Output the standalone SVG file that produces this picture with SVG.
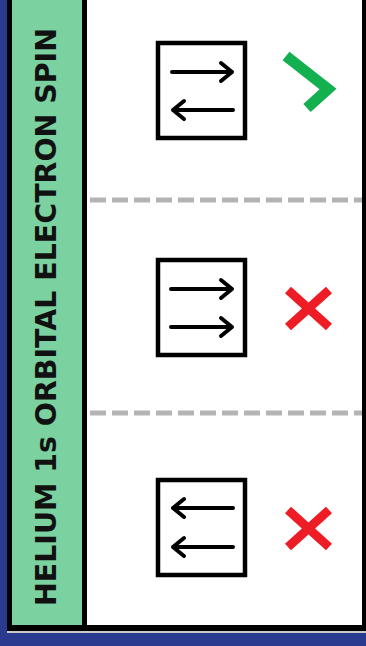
<svg xmlns="http://www.w3.org/2000/svg" width="366" height="646" viewBox="0 0 366 646">
<defs>
<style>
.box{fill:none;stroke:#000;stroke-width:4.5}
.arr{fill:none;stroke:#000;stroke-width:4;stroke-linecap:round;stroke-linejoin:round}
.dash{stroke:#b4b4b4;stroke-width:5;stroke-dasharray:16 6}
.cross{stroke:#ee1c25;stroke-width:9}
</style>
</defs>
<rect x="0" y="0" width="366" height="646" fill="#2a3a8e"/>
<rect x="7" y="0" width="359" height="633" fill="#c8c8c8"/>
<rect x="7" y="0" width="359" height="631" fill="#000"/>
<rect x="12" y="0" width="70" height="625" fill="#7bd19f"/>
<rect x="87" y="0" width="275" height="625" fill="#fff"/>
<text transform="translate(56,317) rotate(-90)" text-anchor="middle" font-family="DejaVu Sans, sans-serif" font-weight="bold" font-size="29" fill="#111" textLength="578" lengthAdjust="spacingAndGlyphs">HELIUM 1s ORBITAL ELECTRON SPIN</text>
<g id="connectors">
<line class="dash" x1="90" y1="200" x2="362" y2="200"/>
<line class="dash" x1="90" y1="413" x2="362" y2="413"/>
</g>
<g id="state1">
<rect class="box" x="158" y="43" width="87" height="95"/>
<path class="arr" d="M172 72H232M221 63L232 72L221 81"/>
<path class="arr" d="M233 110H173M184 101L173 110L184 119"/>
<path d="M286 56L328 89L307 108" fill="none" stroke="#12b04f" stroke-width="11"/>
</g>
<g id="state2">
<rect class="box" x="158" y="260" width="87" height="95"/>
<path class="arr" d="M171 289H232M221 280L232 289L221 298"/>
<path class="arr" d="M171 327H232M221 318L232 327L221 336"/>
<path class="cross" d="M288 290L329 327M329 290L288 327"/>
</g>
<g id="state3">
<rect class="box" x="158" y="480" width="87" height="95"/>
<path class="arr" d="M233 508H173M184 499L173 508L184 517"/>
<path class="arr" d="M233 547H173M184 538L173 547L184 556"/>
<path class="cross" d="M288 510L329 547M329 510L288 547"/>
</g>
</svg>
